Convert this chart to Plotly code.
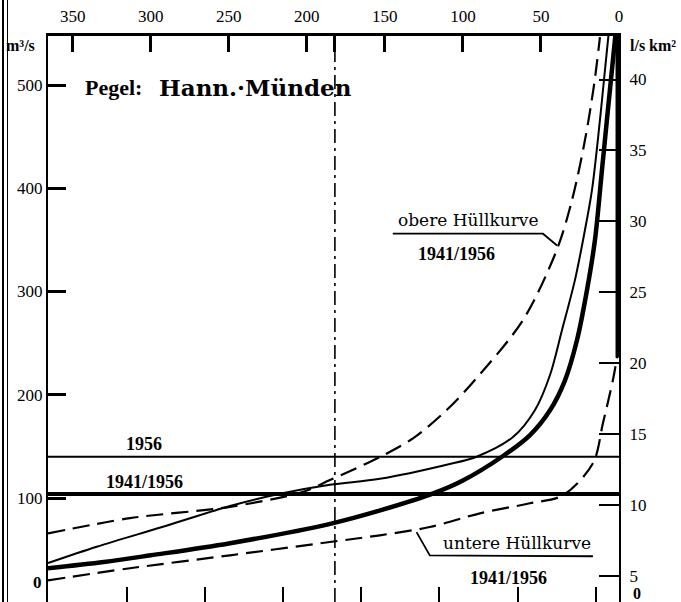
import plotly.graph_objects as go

# ---------------- data ----------------
# duration in days (Unterschreitungsdauer) vs. discharge in m³/s
days_mean = [365.8, 330, 300, 250, 185, 153, 119, 100, 75, 57, 44.2, 34.6, 26.9, 20.5, 15.4, 10.9, 7.1, 3.9, 2.0]
q_mean = [32, 38, 44.5, 56, 75, 88, 104.5, 117, 140, 161, 185, 214, 253, 301.5, 350, 418, 476, 524, 553]

days_1956 = [365.8, 334.6, 292.1, 249.2, 217.2, 185.2, 153.2, 110.4, 91.2, 67.9, 53.8, 44.2, 36.5,
             28.2, 21.8, 17.3, 12.2, 9.0, 6.4]
q_1956 = [37, 52.8, 72.2, 92.2, 104.1, 112.8, 118.6, 132.2, 140, 159.1, 185.3, 219.2, 262.8,
          311.3, 359.7, 398.5, 466.3, 514.5, 553.3]

days_upper = [365.8, 313.3, 249.2, 202.4, 185.2, 153.2, 132.0, 110.4, 92.3, 61.5, 39.9, 30.1, 21.8, 16.0, 12.2]
q_upper = [65.7, 80.5, 91.5, 106.0, 117.4, 139.7, 157.8, 185.2, 214.3, 272.4, 340.2, 388.6, 446.7, 500, 546.5]

days_lower = [365.8, 313.3, 249.2, 185.2, 153.2, 121.2, 89.1, 57.1, 35.9, 16.7, 10.3, 3.9, 1.0]
q_lower = [20.3, 32.0, 44.5, 57.4, 63.9, 71.9, 85.2, 94.9, 102.7, 133.7, 172.4, 214.3, 238.5]

days_lower_top = [0.3, 0.3]
q_lower_top = [236, 547.5]

mq_1956 = 140
mq_1941_1956 = 104
median_day = 182

leader_upper_d = [144.9, 48.7, 39.7]
leader_upper_q = [356, 356, 344.6]
leader_lower_d = [129.7, 121.2, 16.7]
leader_lower_q = [67, 44.5, 43.6]

top_ticks = [350, 300, 250, 200, 150, 100, 50, 0]
bottom_ticks = [315, 265, 215, 165, 115, 65, 15]
left_ticks = [100, 200, 300, 400, 500]
right_ticks = [5, 10, 15, 20, 25, 30, 35, 40]

X_RANGE = [365.8, 0]
Y_RANGE = [-0.7, 547.5]
Y2_RANGE = [3.15, 43.07]

# ---------------- layout helpers ----------------
W, H = 681, 602
L, R, T, B = 48, 62, 36, 0
PW, PH = W - L - R, H - T - B


def px(xp):
    return (xp - L) / PW


def py(yp):
    return (H - B - yp) / PH


SERIF = "Liberation Serif"
WIDE = "DejaVu Serif"

fig = go.Figure()


def line(x, y, width, dash="solid", yaxis="y"):
    fig.add_trace(go.Scatter(x=x, y=y, mode="lines", yaxis=yaxis,
                             line=dict(color="black", width=width, dash=dash, shape="spline", smoothing=0.9),
                             hoverinfo="skip", showlegend=False))


# horizontal mean lines
line([X_RANGE[0], X_RANGE[1]], [mq_1956, mq_1956], 1.8)
line([X_RANGE[0], X_RANGE[1]], [mq_1941_1956, mq_1941_1956], 4)
# median day
line([median_day, median_day], [Y_RANGE[0], Y_RANGE[1]], 1.6, dash="14px,5px,3px,5px")
# curves
line(days_upper, q_upper, 2.2, dash="17px,8px")
line(days_lower, q_lower, 2.2, dash="17px,8px")
line(days_lower_top, q_lower_top, 6)
line(days_1956, q_1956, 2)
line(days_mean, q_mean, 4.5)
# leaders
fig.add_trace(go.Scatter(x=leader_upper_d, y=leader_upper_q, mode="lines",
                         line=dict(color="black", width=1.8), hoverinfo="skip", showlegend=False))
fig.add_trace(go.Scatter(x=leader_lower_d, y=leader_lower_q, mode="lines",
                         line=dict(color="black", width=1.8), hoverinfo="skip", showlegend=False))
# bottom axis helper trace
fig.add_trace(go.Scatter(x=[X_RANGE[0]], y=[Y_RANGE[0]], xaxis="x2", mode="markers",
                         marker=dict(opacity=0), hoverinfo="skip", showlegend=False))
# right axis helper trace
fig.add_trace(go.Scatter(x=[X_RANGE[0]], y=[Y2_RANGE[0]], yaxis="y2", mode="markers",
                         marker=dict(opacity=0), hoverinfo="skip", showlegend=False))

fig.update_layout(
    width=W, height=H,
    margin=dict(l=L, r=R, t=T, b=B, pad=0),
    paper_bgcolor="white", plot_bgcolor="white",
    showlegend=False,
    xaxis=dict(range=X_RANGE, side="top", showgrid=False, zeroline=False,
               showline=True, linecolor="black", linewidth=3, mirror=False,
               ticks="inside", ticklen=16, tickwidth=2.5, tickcolor="black",
               tickvals=top_ticks + [median_day], ticktext=[str(t) for t in top_ticks] + [""],
               tickfont=dict(family=SERIF, size=17, color="black"), ticklabelstandoff=4),
    xaxis2=dict(range=X_RANGE, overlaying="x", side="bottom", showgrid=False, zeroline=False,
                showline=False, ticks="inside", ticklen=15, tickwidth=2, tickcolor="black",
                tickvals=bottom_ticks, showticklabels=False),
    yaxis=dict(range=Y_RANGE, showgrid=False, zeroline=False,
               showline=True, linecolor="black", linewidth=2,
               ticks="inside", ticklen=18, tickwidth=2.5, tickcolor="black",
               tickvals=left_ticks, tickfont=dict(family=SERIF, size=17, color="black")),
    yaxis2=dict(range=Y2_RANGE, overlaying="y", side="right", showgrid=False, zeroline=False,
                showline=True, linecolor="black", linewidth=2,
                ticks="inside", ticklen=20, tickwidth=2, tickcolor="black",
                tickvals=right_ticks, tickfont=dict(family=SERIF, size=17, color="black"),
                ticklabelstandoff=5),
)

ann = []


def text(x, y, s, size, family=SERIF, xanchor="center", xref="x", yref="y", bold=False):
    if bold:
        s = "<b>" + s + "</b>"
    ann.append(dict(x=x, y=y, xref=xref, yref=yref, text=s, showarrow=False,
                    xanchor=xanchor, yanchor="middle",
                    font=dict(family=family, size=size, color="black")))


# axis titles / extra labels (pixel positioned)
text(px(20), py(45), "m³/s", 16, bold=True, xref="paper", yref="paper")
text(px(653), py(45), "l/s km²", 16, bold=True, xref="paper", yref="paper")
text(px(37), py(582), "0", 17, bold=True, xref="paper", yref="paper")
text(px(637), py(593), "0", 16, bold=True, xref="paper", yref="paper")

# title
text(343.6, 498, "Pegel:", 22, family=SERIF, xanchor="left", bold=True)
text(296.2, 498, "Hann.·Münden", 23, family=WIDE, xanchor="left", bold=True)

# curve labels
text(96.8, 369, "obere Hüllkurve", 17, family=WIDE)
text(103.8, 336, "1941/1956", 18, bold=True)
text(65.4, 56, "untere Hüllkurve", 17, family=WIDE)
text(71, 23, "1941/1956", 18, bold=True)
text(304, 152.6, "1956", 18, bold=True)
text(304, 115.6, "1941/1956", 18, bold=True)

fig.update_layout(annotations=ann)

# scan border lines at the very left of the page
fig.update_layout(shapes=[
    dict(type="line", xref="paper", yref="paper", x0=px(3), x1=px(3), y0=py(0), y1=py(602),
         line=dict(color="black", width=2)),
    dict(type="line", xref="paper", yref="paper", x0=px(7.5), x1=px(7.5), y0=py(0), y1=py(602),
         line=dict(color="black", width=1)),
])

fig.write_html("out.html", config={"displayModeBar": False},
               post_script="document.body.style.margin='0px';document.body.style.overflow='hidden';")
